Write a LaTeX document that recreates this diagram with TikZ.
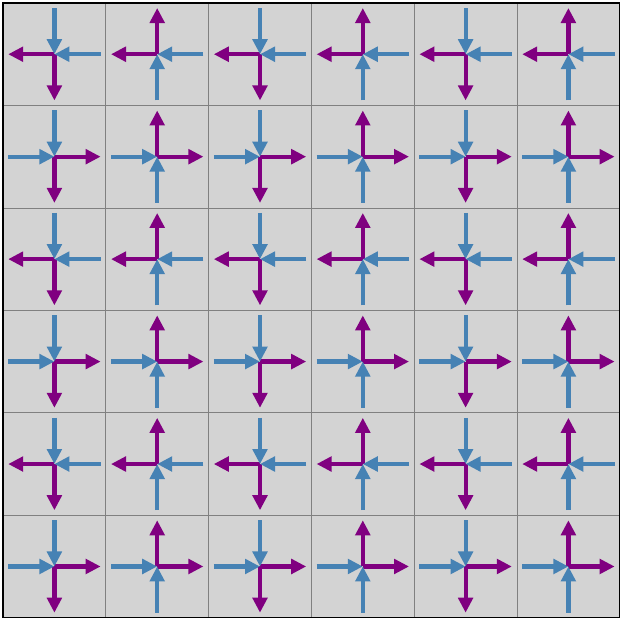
\documentclass[tikz,border=0pt]{standalone}
\usetikzlibrary{arrows.meta}
\definecolor{bgcell}{HTML}{D3D3D3}
\definecolor{steel}{HTML}{4682B4}
\definecolor{purp}{HTML}{800080}
\tikzset{
  cellbox/.style={draw=gray, fill=bgcell, line width=0.8pt},
  framebox/.style={draw=black, line width=1.3pt},
  outarrow/.style={draw=purp, line width=4.2pt, -{Triangle[length=15pt,width=14.5pt]}},
  inarrow/.style={draw=steel, line width=4.2pt, -{Triangle[length=15pt,width=14.5pt]}}
}
\begin{document}
\begin{tikzpicture}[x=1pt,y=-1pt]
\useasboundingbox (0,0) rectangle (626,623);
\def\cw{102.8}
\def\ch{102.45}
\def\al{46.2}
\foreach \i in {0,...,5}{
  \foreach \j in {0,...,5}{
    \pgfmathsetmacro\xa{3+\i*\cw}
    \pgfmathsetmacro\ya{3+\j*\ch}
    \pgfmathsetmacro\xb{3+(\i+1)*\cw}
    \pgfmathsetmacro\yb{3+(\j+1)*\ch}
    \draw[cellbox] (\xa,\ya) rectangle (\xb,\yb);
  }
}
\draw[framebox] (3,3) rectangle ({3+6*\cw},{3+6*\ch});
\foreach \i in {0,...,5}{
  \foreach \j in {0,...,5}{
    \pgfmathsetmacro\cx{3+(\i+0.5)*\cw}
    \pgfmathsetmacro\cy{3+(\j+0.5)*\ch}
    \pgfmathsetmacro\hs{2*mod(\j,2)-1}
    \pgfmathsetmacro\vs{1-2*mod(\i,2)}
    \pgfmathsetmacro\bhx{\cx-\hs*\al}
    \pgfmathsetmacro\phx{\cx+\hs*\al}
    \pgfmathsetmacro\bvy{\cy-\vs*\al}
    \pgfmathsetmacro\pvy{\cy+\vs*\al}
    \coordinate (c-\i-\j) at (\cx,\cy);
    \coordinate (bh-\i-\j) at (\bhx,\cy);
    \coordinate (ph-\i-\j) at (\phx,\cy);
    \coordinate (bv-\i-\j) at (\cx,\bvy);
    \coordinate (pv-\i-\j) at (\cx,\pvy);
    \draw[outarrow] (c-\i-\j) -- (ph-\i-\j);
    \draw[outarrow] (c-\i-\j) -- (pv-\i-\j);
    \draw[inarrow] (bh-\i-\j) -- (c-\i-\j);
    \draw[inarrow] (bv-\i-\j) -- (c-\i-\j);
  }
}
\end{tikzpicture}
\end{document}
